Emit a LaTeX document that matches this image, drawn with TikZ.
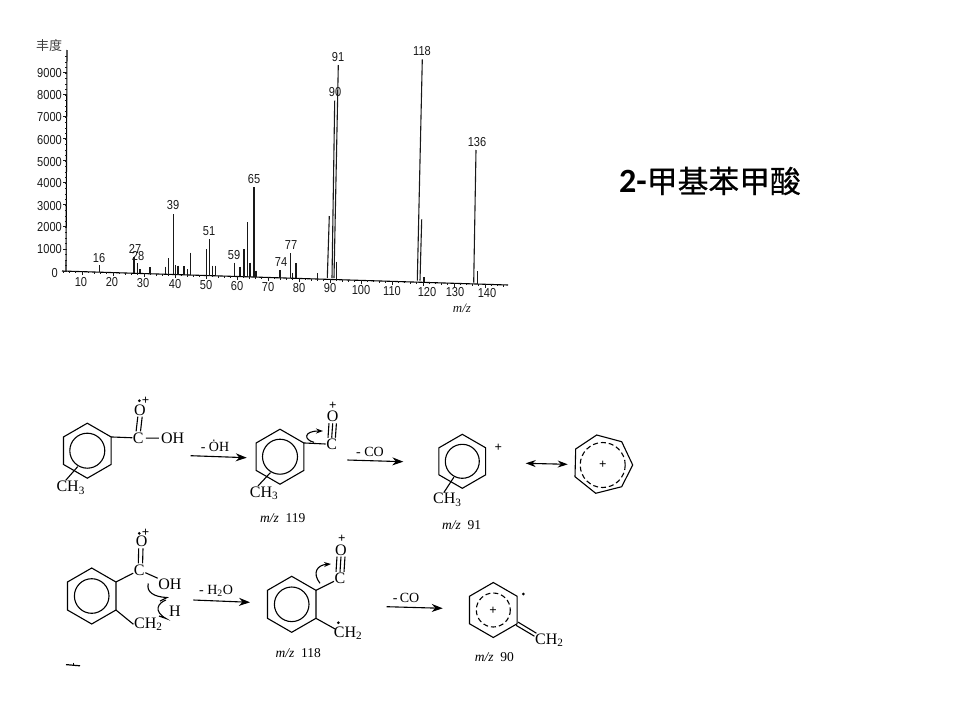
\documentclass[tikz,border=0pt]{standalone}
\usepackage{fontspec}
\setmainfont{Liberation Serif}
\newfontfamily\chartfont{Liberation Sans}
\newfontfamily\cjkfont{Noto Sans CJK SC}
\newfontfamily\cjktitle[FakeBold=0.5]{Noto Sans CJK SC}
\newfontfamily\titlefont{Carlito}
\usetikzlibrary{calc,arrows.meta}
\tikzset{
	bond/.style={line width=1.1pt,black},
	rxn/.style={line width=1.1pt,black,-{Stealth[length=11pt,width=8pt]}},
	reson/.style={line width=1.1pt,black,{Stealth[length=10pt,width=7pt]}-{Stealth[length=10pt,width=7pt]}},
	hook/.style={line width=1.1pt,black,-{Stealth[length=7pt,width=5pt]}},
	barb/.style={line width=1.1pt,black},
	peak/.style={line width=1.1pt,black!90},
	atom/.style={font=\fontsize{16}{16}\selectfont,inner sep=0.5pt},
	rxnlabel/.style={font=\fontsize{14}{14}\selectfont,inner sep=0pt},
	mzlabel/.style={font=\fontsize{13.5}{14}\selectfont,inner sep=0pt},
	charge/.style={font=\fontsize{13}{13}\selectfont\bfseries,inner sep=0pt},
	scalelabel/.style={font=\chartfont\fontsize{13}{13}\selectfont,inner sep=0pt,xscale=0.85,text=black!90},
}
\def\hexring[#1](#2)(#3:#4)(#5){
	\coordinate (#5) at (#2);
	\foreach \a in {30,90,...,330} \coordinate (#5-\a) at ($(#5)+(\a:#3)$);
	\draw[bond] (#5-30) -- (#5-90) -- (#5-150) -- (#5-210) -- (#5-270) -- (#5-330) -- cycle;
	\draw[bond,#1] (#5) circle (#4); }
\def\lpdot(#1){\fill (#1) circle (1.5);}

\begin{document}
\begin{tikzpicture}[x=1pt,y=-1pt]
	\useasboundingbox (0,0) rectangle (960,720);
	% spectrum axes
	\draw[bond] (67,50) -- (66,271);
	\draw[bond] (62,271) -- (508,285);
	\foreach \v in {0,250,...,9750}
		\draw[line width=0.8pt,black!90] (66.5,{271-0.022*\v}) -- +(-1.8,0);
	\foreach \v in {0,1000,...,9000}
		\draw[line width=1pt,black!90] (66.5,{271-0.022*\v}) -- +(-3.5,0);
	\foreach \m in {4,6,...,146} {
		\pgfmathsetmacro\mx{51+3.1*\m}
		\draw[line width=0.8pt,black!90] (\mx,{271+(\mx-67)*0.0316}) -- +(0,1.8);
	}
	\foreach \m in {10,20,...,140} {
		\pgfmathsetmacro\mx{51+3.1*\m}
		\draw[line width=1pt,black!90] (\mx,{271+(\mx-67)*0.0316}) -- +(0,3.5);
	}
	\node[font=\cjkfont\fontsize{13}{13}\selectfont,inner sep=0pt,text=black!75] (yname) at (49,46) {丰度};
	\foreach \v/\py in {9000/73,8000/95,7000/117,6000/140,5000/162,4000/183,3000/206,2000/227,1000/249}
		\node[scalelabel,anchor=east] (y\v) at (62,\py) {\v};
	\node[scalelabel,anchor=east] (y0) at (58,273) {0};
	\foreach \v/\px/\py in {10/81/282,20/112/282,30/143/283,40/175/284,50/206/285,60/237/286,70/268/287,
		80/299/288,90/330/288,100/361/290,110/392/291,120/427/292,130/455/292,140/487/293}
		\node[scalelabel] (x\v) at (\px,\py) {\v};
	\node[font=\itshape\fontsize{13}{13}\selectfont,inner sep=0pt,text=black!90] (xname) at (462,308) {m/z};
	% peaks
	\foreach \px/\ptop in {99.3/265,134/256.7,137.3/263,140/269,150/267,165.7/266.7,168.7/258,173.3/214,
		175.3/265,178/265.7,184/266,187.7/269,190.7/252.7,206.7/249.3,209.7/239.3,212.3/265.7,215.7/265.7,
		234.3/262.7,240/266.7,244/249.3,247.7/222.3,250/262.7,254/187.3,256/270.5,280/270,290.3/253.3,
		292.7/272.7,296/263.3,317.7/273.3,336.7/261.7,424/277.3,477.7/271}
		\draw[peak] (\px,\ptop) -- (\px,{271+(\px-67)*0.0316});
	\foreach \xa/\ya/\xb/\yb in {327.3/278/329.3/216,332/278/334.7/100.7,334/278/338.3/65,
		417.3/280.7/422.3/59.3,420/280.7/421.7/219.3,473.7/282.7/476/150}
		\draw[peak] (\xa,\ya) -- (\xb,\yb);
	\foreach \lab/\px/\py in {16/99/258,27/135/249,28/138/256,39/173/205,51/209/231,59/234/255,65/254/179,
		74/281/262,77/291/245,91/338/57,90/335/92,118/422/51,136/477/142}
		\node[scalelabel] (p\lab) at (\px,\py) {\lab};
	% title
	\node[inner sep=0pt,anchor=west] (title) at (619,181)
		{{\titlefont\bfseries\fontsize{34}{34}\selectfont 2-}{\cjktitle\fontsize{30.8}{31}\selectfont 甲基苯甲酸}};
	% o-toluic ion, top row
	\hexring[](87.3,450.7)(27.5:17.5)(ringA)
	\node[atom] (cA) at (138.3,438) {C};
	\node[atom] (ohA) at (172.7,438.3) {OH};
	\node[atom] (oA) at (140,410) {O};
	\node[atom] (meA) at (70.7,487.7) {CH\textsubscript{3}};
	\node[charge] (plusA) at (145.5,400.7) {+};
	\lpdot(139.3,400.7)
	\draw[bond] (ringA-330) -- (cA);
	\draw[bond,shorten <=1.5pt,shorten >=1.5pt] (cA) -- (ohA);
	\draw[bond] ($(oA.south)+(-2.2,0.5)$) -- ($(cA.north)+(-2.2,-0.5)$);
	\draw[bond] ($(oA.south)+(2.2,0.5)$) -- ($(cA.north)+(2.2,-0.5)$);
	\draw[bond] ($(ringA)+(121:18.5)$) -- ($(meA.north)+(-5,0)$);
	\coordinate (arrA) at (190.7,455.7);
	\coordinate (arrB) at (246.7,457.7);
	\draw[rxn] (arrA) -- (arrB);
	\node[rxnlabel] (lossA) at (215,446) {- \.OH};
	\hexring[](280,456.7)(27.5:17.5)(ringB)
	\node[atom] (cB) at (331.7,444.3) {C};
	\node[atom] (oB) at (332.7,416.7) {O};
	\node[atom] (meB) at (264,493.3) {CH\textsubscript{3}};
	\node[charge] (plusB) at (332.7,406) {+};
	\node[mzlabel] (mzB) at (282.7,518.3) {\textit{m/z}~ 119};
	\draw[bond] (ringB-330) -- (cB);
	\foreach \d in {-3.7,0,3.7}
		\draw[bond] ($(oB.south)+(\d,0.5)$) -- ($(cB.north)+(\d,-0.5)$);
	\draw[bond] ($(ringB)+(121:18.5)$) -- ($(meB.north)+(-6,0)$);
	\coordinate (curlBa) at (314,442.3);
	\coordinate (curlBb) at (323,431);
	\draw[hook] (curlBa) .. controls (304,440) and (303,431) .. (curlBb);
	\coordinate (arrC) at (347.3,460);
	\coordinate (arrD) at (403.3,461.7);
	\draw[rxn] (arrC) -- (arrD);
	\node[rxnlabel] (lossB) at (370,451.7) {- CO};
	\hexring[](462.3,461.3)(27:17)(ringC)
	\node[charge] (plusC) at (498.3,448.3) {+};
	\node[atom] (meC) at (447.3,500) {CH\textsubscript{3}};
	\node[mzlabel] (mzC) at (461.7,525) {\textit{m/z}~ 91};
	\draw[bond] ($(ringC)+(118:18)$) -- ($(meC.north)+(-3.5,0)$);
	\coordinate (arrE) at (525.7,463.3);
	\coordinate (arrF) at (567.7,464.3);
	\draw[reson] (arrE) -- (arrF);
	\coordinate (hept) at (602.7,465);
	\draw[bond] (596.7,435) -- (621.7,441.7) -- (632.7,465) -- (621.7,486.7) -- (595.7,493.3)
		-- (575,476.7) -- (575.7,449) -- cycle;
	\draw[bond,dashed,dash pattern=on 5pt off 3pt] (hept) circle (22.5);
	\node[charge] (plusD) at (hept) {+};
	% second row
	\hexring[](91.7,596)(28:17.3)(ringD)
	\node[atom] (cD) at (139.3,570) {C};
	\node[atom] (oD) at (141.7,541.7) {O};
	\node[atom] (ohD) at (170,584.3) {OH};
	\node[atom] (hD) at (175,611.7) {H};
	\node[atom] (chD) at (148.3,624.3) {CH\textsubscript{2}};
	\node[charge] (plusE) at (145.5,533.3) {+};
	\lpdot(139.3,533.3)
	\draw[bond] (ringD-330) -- (cD);
	\draw[bond] (ringD-30) -- (chD.west);
	\draw[bond] (cD) -- (ohD.north west);
	\draw[bond] ($(oD.south)+(-3,0.5)$) -- ($(cD.north)+(-1,-0.5)$);
	\draw[bond] ($(oD.south)+(1.3,0.5)$) -- ($(cD.north)+(3.3,-0.5)$);
	\coordinate (hookAa) at (148.3,583.5);
	\coordinate (hookAb) at (167,597.5);
	\draw[barb] (hookAa) .. controls (146,592) and (154,597) .. (hookAb) -- (160,601);
	\coordinate (hookBa) at (166,600);
	\coordinate (hookBb) at (166,618.5);
	\draw[barb] (hookBa) .. controls (158,603) and (153,611) .. (hookBb) -- (159,616);
	\coordinate (arrG) at (193.3,600);
	\coordinate (arrH) at (250,602.3);
	\draw[rxn] (arrG) -- (arrH);
	\node[rxnlabel] (lossC) at (216,590.7) {- H\textsubscript{2}O};
	\hexring[](291.7,604.3)(28:17.3)(ringE)
	\node[atom] (cE) at (340,578.3) {C};
	\node[atom] (oE) at (341,550) {O};
	\node[atom] (chE) at (348,633.3) {CH\textsubscript{2}};
	\node[charge] (plusF) at (341.7,539.3) {+};
	\node[mzlabel] (mzE) at (298.3,652.7) {\textit{m/z}~ 118};
	\lpdot(338.3,622.7)
	\draw[bond] (ringE-330) -- (cE);
	\draw[bond] (ringE-30) -- ($(chE.north west)+(2,3)$);
	\foreach \d in {-4,0,4}
		\draw[bond] ($(oE.south)+(\d,0.5)$) -- ($(cE.north)+(\d,-0.5)$);
	\coordinate (curlEa) at (320,583.3);
	\coordinate (curlEb) at (331,564);
	\draw[hook] (curlEa) .. controls (312,573) and (317,565) .. (curlEb);
	\coordinate (arrI) at (386.7,606.7);
	\coordinate (arrJ) at (442.7,608.3);
	\draw[rxn] (arrI) -- (arrJ);
	\node[rxnlabel] (lossD) at (406,598.3) {-\,CO};
	\hexring[dashed,dash pattern=on 5pt off 3pt](493.3,610)(27.5:17)(ringF)
	\node[charge] (plusG) at (493,611) {+};
	\node[atom] (chF) at (549.3,640) {CH\textsubscript{2}};
	\node[mzlabel] (mzF) at (494.3,656.7) {\textit{m/z}~ 90};
	\lpdot(523.3,594)
	\draw[bond] ($(ringF-30)+(1,-1.6)$) -- ($(chF.north west)+(2,0.5)$);
	\draw[bond] ($(ringF-30)+(-1,1.6)$) -- ($(chF.north west)+(0,3.5)$);
	% cut-off mark at the foot
	\draw[line width=1.2pt] (66,664.6) -- (80,665.8);
	\draw[line width=0.8pt] (73,662.5) -- (73,666);
\end{tikzpicture}
\end{document}
